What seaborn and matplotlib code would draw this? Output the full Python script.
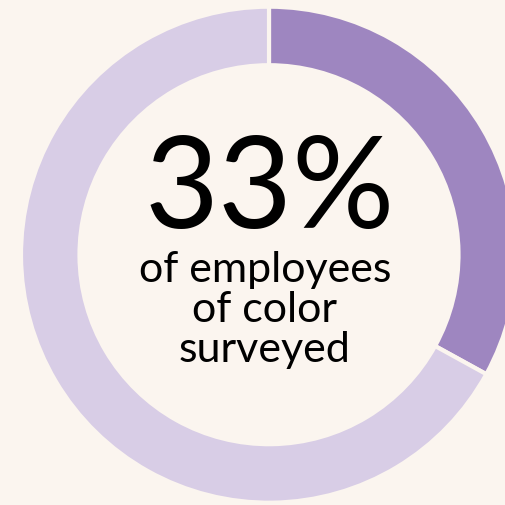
import matplotlib
matplotlib.use("Agg")
import matplotlib.pyplot as plt
import seaborn as sns

labels = ["Employees of color", "Other"]
values = [33, 67]
colors = ["#9e86c0", "#d8cde6"]
big_text = "33%"
sub_lines = ["of employees", "of color", "surveyed"]

bg = "#fbf5ef"
sns.set_theme(style="white")
plt.rcParams["font.family"] = ["Lato", "DejaVu Sans"]

W = H = 505
fig = plt.figure(figsize=(W / 100, H / 100), dpi=100, facecolor=bg)
ax = fig.add_axes([0, 0, 1, 1])
ax.set_facecolor(bg)

cx, cy = 269, H - 254.7
R = 248
ax.pie(values, colors=colors, startangle=90, counterclock=False,
       radius=R, center=(cx, cy),
       wedgeprops=dict(width=58.5, edgecolor=bg, linewidth=3.0))
ax.set_xlim(0, W)
ax.set_ylim(0, H)
ax.set_aspect("equal")
ax.axis("off")

ax.text(270, H - 228, big_text, ha="center", va="baseline", fontsize=92, color="black")
baselines = [282, 322, 362]
for line, b in zip(sub_lines, baselines):
    ax.text(265, H - b, line, ha="center", va="baseline", fontsize=31, color="black")

fig.savefig("out.png", dpi=100, facecolor=bg)
